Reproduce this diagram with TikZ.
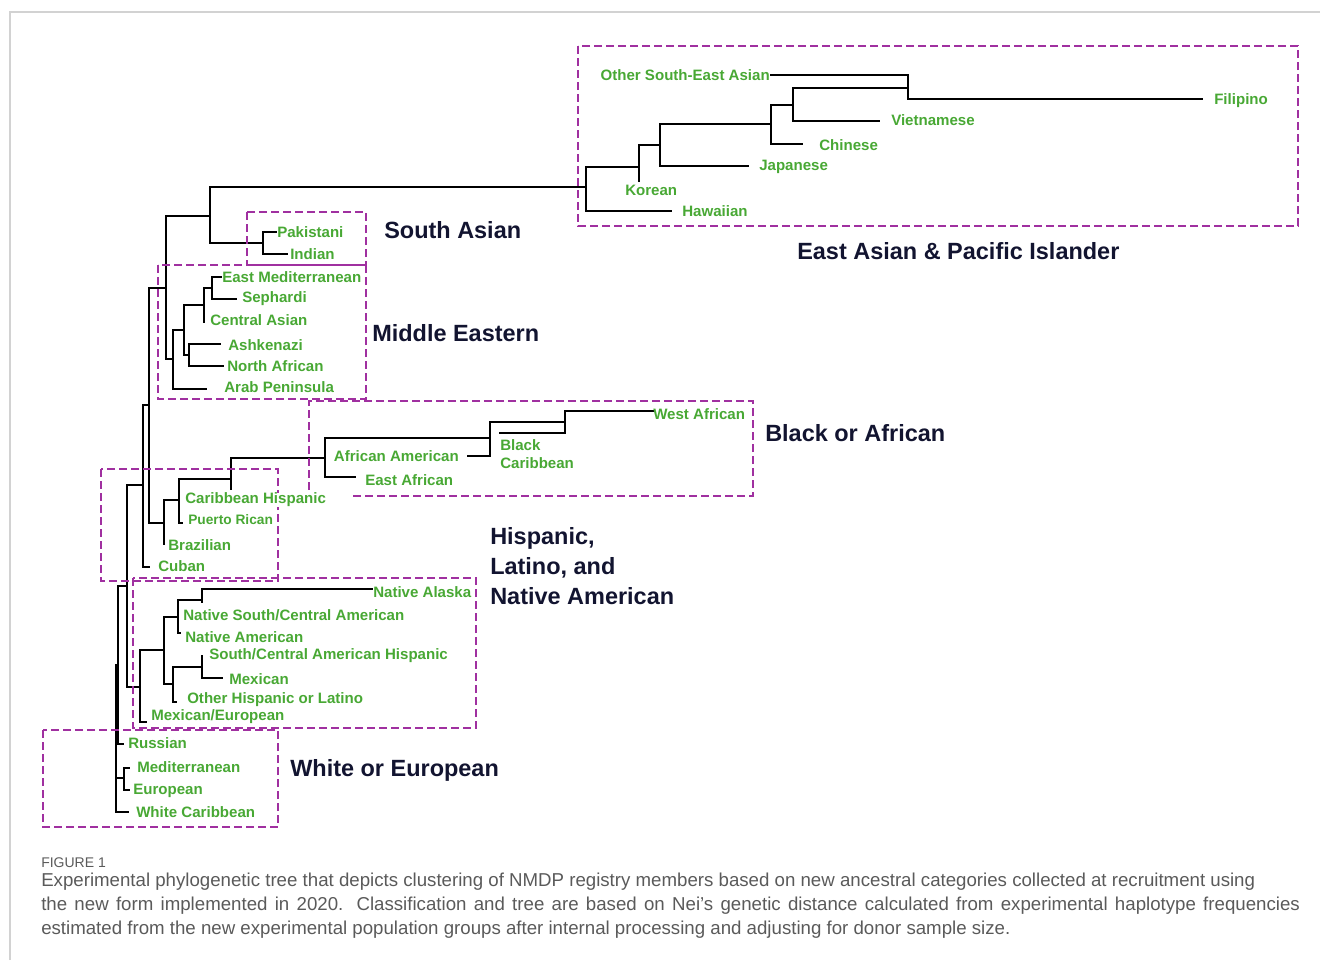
\documentclass[tikz,border=0pt]{standalone}
\usepackage{fontspec}
\setmainfont{Liberation Sans}
\definecolor{leafgreen}{RGB}{72,168,52}
\definecolor{boxpurple}{RGB}{160,48,160}
\definecolor{groupnavy}{RGB}{18,20,48}
\definecolor{captiongray}{RGB}{90,90,90}

\begin{document}
\begin{tikzpicture}[x=0.75pt,y=-0.75pt,
  branch/.style={black,line width=1.1pt},
  clade/.style={boxpurple,line width=1.5pt,dash pattern=on 6pt off 3pt},
  leaf/.style={inner sep=0pt,anchor=west,text=leafgreen,font=\fontsize{11.3}{13.5}\selectfont\bfseries},
  group/.style={inner sep=0pt,anchor=west,text=groupnavy,font=\fontsize{17.6}{22.5}\selectfont\bfseries},
  caption/.style={inner sep=0pt,anchor=west,text=captiongray,font=\fontsize{14}{17}\selectfont}]
\useasboundingbox (0,0) rectangle (1320,960);
\draw [gray!35,line width=0.8pt] (10,960) -- (10,12) -- (1320,12);

% inner nodes of the tree
\coordinate (root) at (116,738);
\coordinate (n-g) at (118,665);
\coordinate (n-f) at (127,586);
\coordinate (n-d) at (143,485);
\coordinate (n-c) at (149,405);
\coordinate (n-a) at (166,288);
\coordinate (n-s) at (210,216);
\coordinate (sa) at (263,243);
\coordinate (ea) at (586,187);
\coordinate (ea1) at (639,167);
\coordinate (ea2) at (660,145);
\coordinate (ea3) at (771,124);
\coordinate (ea4) at (793,105);
\coordinate (ea5) at (908,88);
\coordinate (me) at (173,359);
\coordinate (me1) at (184,330);
\coordinate (me2) at (189,355);
\coordinate (me3) at (204,305);
\coordinate (me4) at (212,288);
\coordinate (hi) at (164,523);
\coordinate (hi1) at (179,500);
\coordinate (af0) at (231,479);
\coordinate (af) at (325,458);
\coordinate (af1) at (490,438);
\coordinate (af2) at (565,422);
\coordinate (nm) at (140,687);
\coordinate (nm0) at (164,650);
\coordinate (nm1) at (178,617);
\coordinate (nm2) at (173,684);
\coordinate (nm3) at (202,600);
\coordinate (nm4) at (202,667);
\coordinate (eu) at (124,778);

% branch tips
\coordinate (t-ose) at (770,75);
\coordinate (t-fil) at (1203,99);
\coordinate (t-vie) at (880,121);
\coordinate (t-chi) at (803,144);
\coordinate (t-jap) at (749,166);
\coordinate (t-kor) at (639,182);
\coordinate (t-haw) at (672,211);
\coordinate (t-pak) at (277,232);
\coordinate (t-ind) at (288,254);
\coordinate (t-emed) at (222,277);
\coordinate (t-sep) at (237,299);
\coordinate (t-cas) at (204,323);
\coordinate (t-ash) at (221,344);
\coordinate (t-naf) at (224,366);
\coordinate (t-arb) at (207,389);
\coordinate (t-waf) at (655,411);
\coordinate (t-bca) at (499,433);
\coordinate (t-aam) at (467,456);
\coordinate (t-eaf) at (356,477);
\coordinate (t-af0) at (231,490);
\coordinate (t-pur) at (183,523);
\coordinate (t-bra) at (164,545);
\coordinate (t-cub) at (150,567);
\coordinate (t-nal) at (373,589);
\coordinate (t-nm3) at (202,603);
\coordinate (t-nam) at (181,633);
\coordinate (t-sch) at (202,655);
\coordinate (t-mex) at (223,678);
\coordinate (t-ohl) at (177,702);
\coordinate (t-mxe) at (147,722);
\coordinate (t-rus) at (124,744);
\coordinate (t-med) at (130,768);
\coordinate (t-eur) at (130,790);
\coordinate (t-wca) at (129,812);

\foreach \p/\c in {root/n-g, root/eu, root/t-wca, n-g/n-f, n-g/t-rus,
    n-f/n-d, n-f/nm, n-d/n-c, n-d/t-cub, n-c/n-a, n-c/hi,
    n-a/n-s, n-a/me, n-s/ea, n-s/sa, sa/t-pak, sa/t-ind,
    ea/t-haw, ea/ea1, ea1/t-kor, ea1/ea2, ea2/t-jap, ea2/ea3,
    ea3/t-chi, ea3/ea4, ea4/t-vie, ea4/ea5, ea5/t-ose, ea5/t-fil,
    me/t-arb, me/me1, me1/me2, me1/me3, me2/t-ash, me2/t-naf,
    me3/t-cas, me3/me4, me4/t-emed, me4/t-sep,
    hi/hi1, hi/t-bra, hi1/af0, hi1/t-pur, af0/af, af0/t-af0,
    af/t-eaf, af/af1, af1/t-aam, af1/af2, af2/t-waf, af2/t-bca,
    nm/nm0, nm/t-mxe, nm0/nm1, nm0/nm2, nm1/nm3, nm1/t-nam,
    nm3/t-nal, nm3/t-nm3, nm2/nm4, nm2/t-ohl, nm4/t-sch, nm4/t-mex,
    eu/t-med, eu/t-eur}
  \draw [branch] (\p) |- (\c);

% clade boxes
\draw [clade] (578,46) rectangle (1298,226);
\draw [clade] (247,212) rectangle (366,265);
\draw [clade] (158,265) rectangle (366,399);
\draw [clade] (353,496) -- (753,496) -- (753,401) -- (309,401) -- (309,490);
\draw [clade] (101,469) rectangle (278,581);
\draw [clade] (133,578) rectangle (476,728);
\draw [clade] (43,730) rectangle (278,827);

% leaf labels
\node [leaf,anchor=east] (l-ose) at (770,75) {Other South-East Asian};
\node [leaf] (l-fil) at (1214,101) {Filipino};
\node [leaf] (l-vie) at (891,120) {Vietnamese};
\node [leaf] (l-chi) at (819,145) {Chinese};
\node [leaf] (l-jap) at (759,167) {Japanese};
\node [leaf] (l-kor) at (625,190) {Korean};
\node [leaf] (l-haw) at (682,211) {Hawaiian};
\node [leaf] (l-pak) at (277,232) {Pakistani};
\node [leaf] (l-ind) at (290,254) {Indian};
\node [leaf] (l-emed) at (222,277) {East Mediterranean};
\node [leaf] (l-sep) at (242,299) {Sephardi};
\node [leaf] (l-cas) at (210,320) {Central Asian};
\node [leaf] (l-ash) at (228,345) {Ashkenazi};
\node [leaf] (l-naf) at (227,366) {North African};
\node [leaf] (l-arb) at (224,387) {Arab Peninsula};
\node [leaf] (l-waf) at (653,414) {West African};
\node [leaf,align=left] (l-bca) at (500,454) {Black\\Caribbean};
\node [leaf,anchor=east] (l-aam) at (459,456) {African American};
\node [leaf] (l-eaf) at (365,480) {East African};
\node [leaf,fill=white] (l-chs) at (185,500) {Caribbean Hispanic};
\node [leaf,font=\fontsize{10.3}{12}\selectfont\bfseries] (l-pur) at (188,520) {Puerto Rican};
\node [leaf] (l-bra) at (168,545) {Brazilian};
\node [leaf] (l-cub) at (158,566) {Cuban};
\node [leaf] (l-nal) at (373,592) {Native Alaska};
\node [leaf] (l-nsc) at (183,615) {Native South/Central American};
\node [leaf] (l-nam) at (185,637) {Native American};
\node [leaf] (l-sch) at (209,656) {South/Central American Hispanic};
\node [leaf] (l-mex) at (229,679) {Mexican};
\node [leaf] (l-ohl) at (187,700) {Other Hispanic or Latino};
\node [leaf] (l-mxe) at (151,717) {Mexican/European};
\node [leaf] (l-rus) at (128,743) {Russian};
\node [leaf] (l-med) at (137,767) {Mediterranean};
\node [leaf] (l-eur) at (133,791) {European};
\node [leaf] (l-wca) at (136,812) {White Caribbean};

% clade names
\node [group] (g-sa) at (384,230) {South Asian};
\node [group] (g-ea) at (797,251) {East Asian \& Pacific Islander};
\node [group] (g-me) at (372,333) {Middle Eastern};
\node [group] (g-af) at (765,433) {Black or African};
\node [group,align=left] (g-hi) at (490,566) {Hispanic,\\Latino, and\\Native American};
\node [group] (g-eu) at (290,770) {White or European};

% caption
\node [caption,font=\fontsize{10.5}{12}\selectfont] (fig) at (41,863) {FIGURE 1};
\node [caption] (cap1) at (41,882) {Experimental phylogenetic tree that depicts clustering of NMDP registry members based on new ancestral categories collected at recruitment using};
\node [caption] (cap2) at (41,906) {\makebox[944pt][s]{the new form implemented in 2020. Classification and tree are based on Nei’s genetic distance calculated from experimental haplotype frequencies}};
\node [caption] (cap3) at (41,930) {estimated from the new experimental population groups after internal processing and adjusting for donor sample size.};
\end{tikzpicture}
\end{document}
